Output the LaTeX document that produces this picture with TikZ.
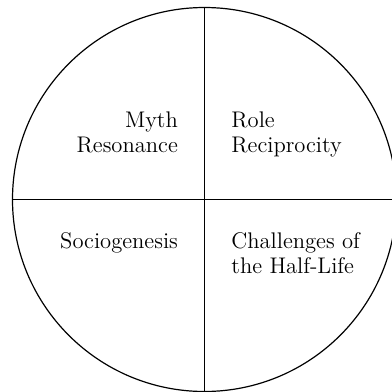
\documentclass[tikz,border=0pt]{standalone}
\usepackage{tikz}
\usetikzlibrary{positioning}

\begin{document}
\begin{tikzpicture}[x=0.5pt, y=0.5pt,
  quadlabel/.style={font=\fontsize{11.3}{12.5}\selectfont, inner sep=0pt}]
  \useasboundingbox (-204.5,-192.5) rectangle (187.5,199.5);
  \node[draw, circle, line width=0.6pt, minimum size=384*0.5pt, inner sep=0pt] (wheel) at (0,0) {};
  \draw[line width=0.6pt] (wheel.north) -- (wheel.south);
  \draw[line width=0.6pt] (wheel.west) -- (wheel.east);
  \node[quadlabel, align=right, anchor=north east] (myth) at (-26.2,88) {Myth\\Resonance};
  \node[quadlabel, align=left, anchor=north west] (role) at (26.5,88) {Role\\Reciprocity};
  \node[quadlabel, align=right, anchor=north east] (socio) at (-26.2,-33) {Sociogenesis};
  \node[quadlabel, align=left, anchor=north west] (halflife) at (26.5,-33) {Challenges of\\the Half-Life};
\end{tikzpicture}
\end{document}
